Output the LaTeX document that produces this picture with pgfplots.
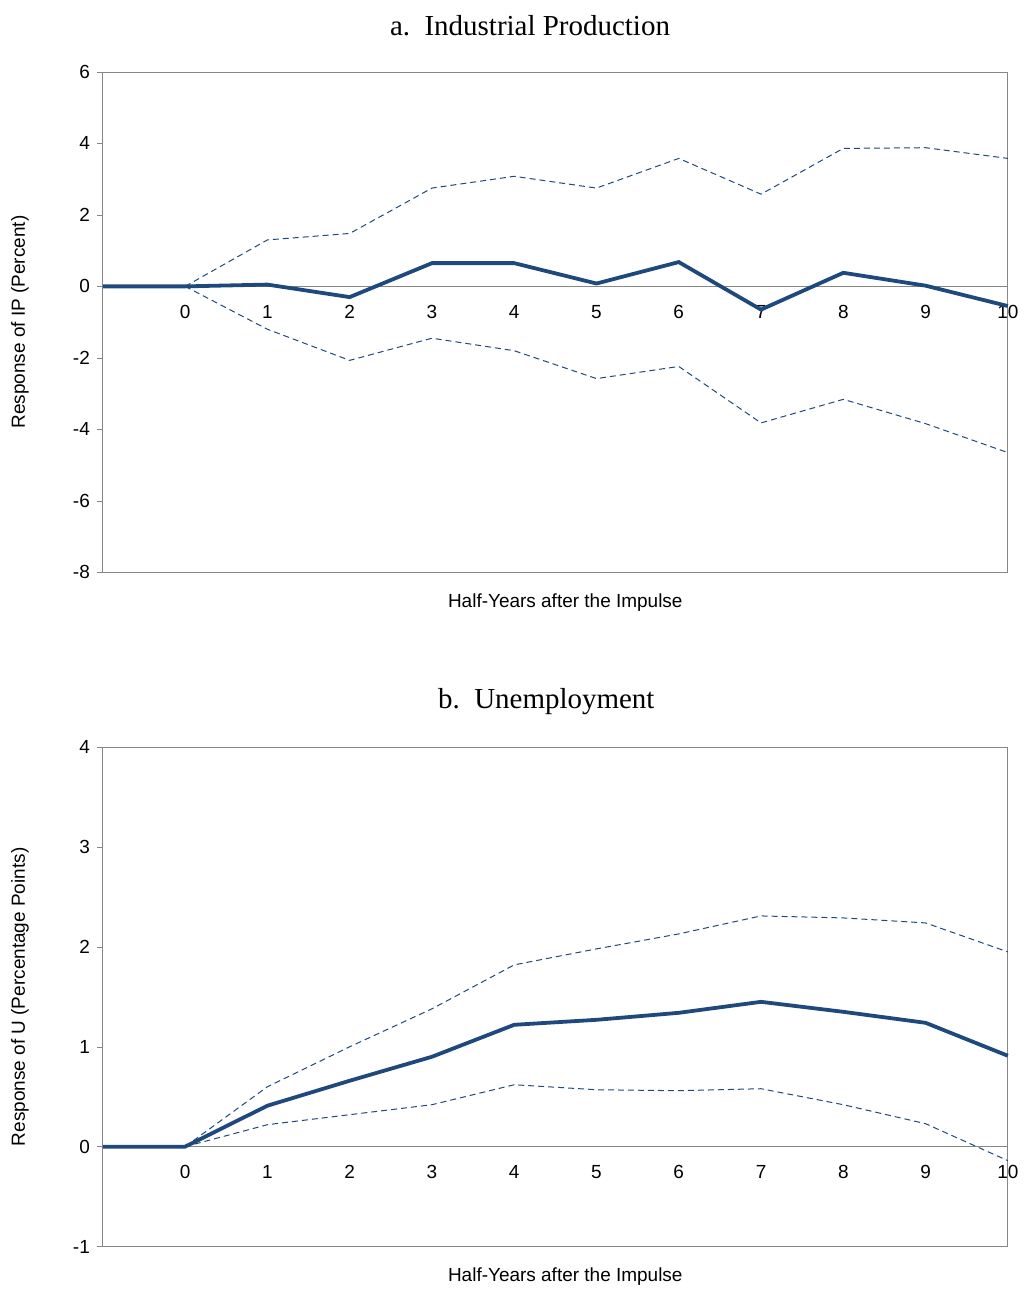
\documentclass[border=0pt]{standalone}
\usepackage{pgfplots}
\pgfplotsset{compat=1.18}
\usepackage{fontspec}
\setmainfont{Liberation Sans}
\newfontfamily\serif{Liberation Serif}
\definecolor{dblue}{RGB}{31,73,125}
\definecolor{agray}{RGB}{134,134,134}
\pgfplotsset{
  myax/.style={
    scale only axis, width=453pt, xmin=-1, xmax=10,
    axis x line=middle, axis y line=left,
    axis line style={agray,-}, x axis line style={agray,-},
    xtick={0,...,10}, major tick length=3pt,
    xtick style={draw=none}, ytick style={agray},
    tick align=outside,
    ticklabel style={font=\fontsize{9.5}{10}\selectfont},
    xticklabel style={yshift=-3pt},
    /pgf/number format/assume math mode=true,
    clip=false,
  },
  sol/.style={dblue, line width=1.9pt, no marks},
  das/.style={dblue, densely dashed, line width=0.5pt, no marks},
}
\begin{document}
\begin{tikzpicture}[x=1pt,y=1pt]
\path (0,0) rectangle (512,-646);
\begin{axis}[myax, at={(51.5pt,-286.5pt)}, anchor=south west, height=250.5pt, ymin=-8, ymax=6, ytick={-8,-6,...,6}]
\draw[agray] (rel axis cs:0,0) rectangle (rel axis cs:1,1);
\addplot[das] coordinates {(0,0)(1,1.3)(2,1.48)(3,2.75)(4,3.08)(5,2.75)(6,3.58)(7,2.58)(8,3.86)(9,3.88)(10,3.58)};
\addplot[das] coordinates {(0,0)(1,-1.2)(2,-2.07)(3,-1.45)(4,-1.8)(5,-2.58)(6,-2.24)(7,-3.82)(8,-3.16)(9,-3.84)(10,-4.65)};
\addplot[sol] coordinates {(-1,0)(0,0)(1,0.05)(2,-0.3)(3,0.65)(4,0.65)(5,0.08)(6,0.68)(7,-0.65)(8,0.38)(9,0.02)(10,-0.55)};
\node[font=\fontsize{9.5}{10}\selectfont] at ([yshift=-15pt]rel axis cs:0.511,0) {Half-Years after the Impulse};
\node[font=\fontsize{9.5}{10}\selectfont, rotate=90] at ([xshift=-41.5pt]rel axis cs:0,0.5) {Response of IP (Percent)};
\node[font=\serif\fontsize{14.5}{15}\selectfont] at ([yshift=23pt]rel axis cs:0.472,1) {a.\ \ Industrial Production};
\end{axis}
\begin{axis}[myax, at={(51.5pt,-624pt)}, anchor=south west, height=250pt, ymin=-1, ymax=4, ytick={-1,0,...,4}]
\draw[agray] (rel axis cs:0,0) rectangle (rel axis cs:1,1);
\addplot[das] coordinates {(0,0)(1,0.6)(2,1.0)(3,1.38)(4,1.82)(5,1.98)(6,2.13)(7,2.31)(8,2.29)(9,2.24)(10,1.95)};
\addplot[das] coordinates {(0,0)(1,0.22)(2,0.32)(3,0.42)(4,0.62)(5,0.57)(6,0.56)(7,0.58)(8,0.42)(9,0.23)(10,-0.14)};
\addplot[sol] coordinates {(-1,0)(0,0)(1,0.41)(2,0.66)(3,0.9)(4,1.22)(5,1.27)(6,1.34)(7,1.45)(8,1.35)(9,1.24)(10,0.91)};
\node[font=\fontsize{9.5}{10}\selectfont] at ([yshift=-15pt]rel axis cs:0.511,0) {Half-Years after the Impulse};
\node[font=\fontsize{9.5}{10}\selectfont, rotate=90] at ([xshift=-41.5pt]rel axis cs:0,0.5) {Response of U (Percentage Points)};
\node[font=\serif\fontsize{14.5}{15}\selectfont] at ([yshift=23pt]rel axis cs:0.49,1) {b.\ \ Unemployment};
\end{axis}
\end{tikzpicture}
\end{document}
